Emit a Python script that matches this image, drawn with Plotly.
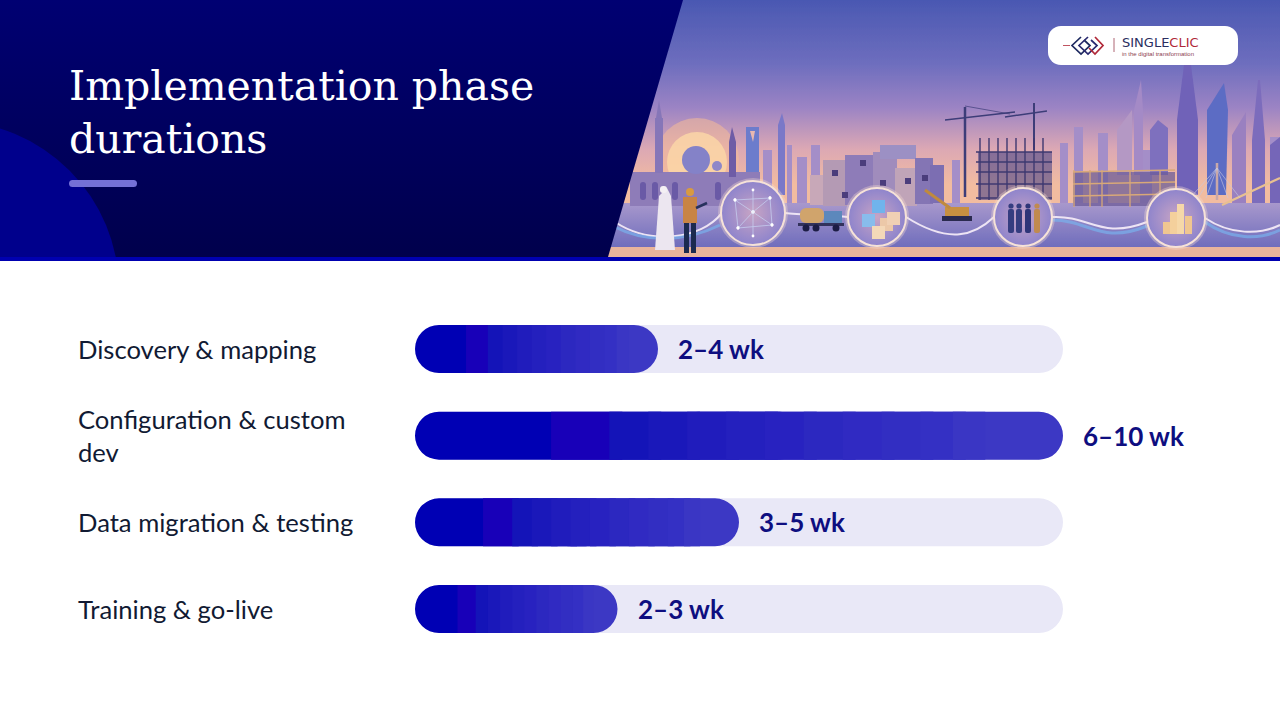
import base64
import plotly.graph_objects as go

# Chart data
phases = ['Discovery & mapping', 'Configuration & custom dev', 'Data migration & testing', 'Training & go-live']
phase_labels = ['Discovery & mapping', 'Configuration & custom<br>dev', 'Data migration & testing', 'Training & go-live']
bar_weeks = [3, 8, 4, 2.5]
range_labels = ['2–4 wk', '6–10 wk', '3–5 wk', '2–3 wk']
track_weeks = [8, 8, 8, 8]

# Bands of the bar fill, as share of each bar length
band_edges = [.21, .30, .36, .42, .48, .54, .60, .66, .72, .78, .83, .88]
band_colors = ['#1800B8', '#1414B8', '#1A18BA', '#201CBC', '#2420BE', '#2822C0',
               '#2C28C0', '#302AC2', '#322EC2', '#3430C4', '#3A36C4']
start_color = '#0000B4'
end_color = '#3C38C4'

NAVY = '#0E0E80'
INK = '#111A33'
W, H = 1280, 720


# Header artwork, drawn as one svg and placed behind the chart
def rect(x, y, w, h, fill, extra=''):
    return f'<rect x="{x}" y="{y}" width="{w}" height="{h}" fill="{fill}" {extra}/>'


def poly(points, fill, extra=''):
    return f'<polygon points="{points}" fill="{fill}" {extra}/>'


def circle(x, y, r, fill, extra=''):
    return f'<circle cx="{x}" cy="{y}" r="{r}" fill="{fill}" {extra}/>'


def line(x1, y1, x2, y2, color, w=1):
    return f'<line x1="{x1}" y1="{y1}" x2="{x2}" y2="{y2}" stroke="{color}" stroke-width="{w}"/>'


art = []
art.append(rect(600, 0, 680, 257, 'url(#sky)'))
art.append(circle(697, 160, 42, '#F6BC98', 'opacity=".55"'))
art.append(circle(697, 162, 30, '#FCD8A8', 'opacity=".8"'))

# far towers: x, top, width
for x, top, w in [(763, 150, 9), (787, 145, 5), (797, 157, 10), (811, 145, 9), (1060, 143, 8), (1074, 127, 9),
                  (1098, 133, 10), (1270, 137, 10), (952, 160, 8), (1140, 150, 12)]:
    art.append(rect(x, top, w, 205 - top, '#A48EC8'))
art.append(rect(746, 127, 13, 60, '#6C7CCC'))
art.append(poly('750,131 755,131 753,142', '#E8B8B0'))
art.append(poly('778,125 782,113 785,125 785,195 778,195', '#7A78C8'))

# right hand towers
for pts, fill in [('1117,130 1132,110 1132,175 1117,175', '#B498C4'),
                  ('1134,110 1141,80 1143,110 1143,175 1134,175', '#A48AC6'),
                  ('1150,130 1158,120 1168,128 1168,175 1150,175', '#7E70BE'),
                  ('1177,120 1184,65 1191,65 1198,120 1198,195 1177,195', '#6F62B8'),
                  ('1207,110 1224,83 1228,110 1226,195 1207,195', '#5C6CC4'),
                  ('1232,135 1246,112 1246,205 1232,205', '#9A80C0'),
                  ('1252,140 1258,80 1260,80 1265,140 1265,205 1252,205', '#7C6CBC'),
                  ('1270,145 1280,137 1280,205 1270,205', '#7466B8')]:
    art.append(poly(pts, fill))

# ground
art.append(rect(600, 203, 680, 45, 'url(#ground)'))
art.append(rect(600, 247, 680, 10, '#E8B49C'))

# mosque
art.append(rect(630, 172, 130, 34, '#8E7CB8'))
art.append(circle(696, 160, 14, '#8482C8'))
art.append(rect(655, 118, 8, 55, '#8676B8'))
art.append(poly('656,118 659,100 662,118', '#8676B8'))
art.append(rect(729, 142, 7, 35, '#6E5CA6'))
art.append(poly('729,142 732,127 736,142', '#6E5CA6'))
art.append(circle(717, 166, 5, '#8F88C8'))
for x in (640, 652, 672, 715, 745):
    art.append(rect(x, 182, 6, 18, '#6A5AA6', 'rx="3"'))

# mud brick blocks: x, y, w, h, colour
for x, y, w, h, fill in [(810, 175, 30, 30, '#C8A8B8'), (823, 160, 25, 46, '#B49AB4'), (845, 155, 28, 50, '#8E7CB8'),
                         (873, 152, 24, 52, '#A08CBC'), (880, 145, 36, 14, '#9C90C4'), (895, 168, 22, 38, '#C0A4B8'),
                         (915, 158, 18, 46, '#8474B4'), (930, 165, 14, 38, '#7C6EB2')]:
    art.append(rect(x, y, w, h, fill))
for x, y in [(832, 170), (860, 160), (880, 180), (905, 178), (842, 192), (868, 190), (922, 175)]:
    art.append(rect(x, y, 6, 6, '#4C3C7C'))

# cranes
for pts in [(965, 107, 965, 197, 2.5), (945, 120, 1015, 112, 1.6), (965, 106, 1010, 114, .7), (1034, 103, 1034, 150, 2),
            (1005, 117, 1047, 111, 1.5)]:
    art.append(line(*pts[:4], '#3C3C78', pts[4]))

# first building skeleton
art.append(rect(978, 152, 74, 48, '#4C4688', 'opacity=".6"'))
for x in range(980, 1052, 9):
    art.append(line(x, 138, x, 200, '#3E3870', 1.4))
for y in (152, 162, 172, 184, 198):
    art.append(line(976, y, 1052, y, '#3E3870', 1.6))

# second building skeleton
art.append(rect(1073, 172, 102, 34, '#6C5C98', 'opacity=".75"'))
for y in (172, 184, 196):
    art.append(line(1073, y, 1175, y - 2, '#D8A878', 1.4))
for x in (1074, 1090, 1102, 1130, 1160):
    art.append(line(x, 170, x, 207, '#D8A878', 1.3))

# bridge
art.append(line(1217, 163, 1217, 200, '#C8A8A8', 2.5))
art.append(line(1222, 205, 1280, 178, '#E8C090', 2.2))
for x in (1190, 1198, 1206, 1228, 1240):
    art.append(line(1217, 168, x, 198, '#C8C8E0', .6))

# data ribbon joining the circles
art.append('<path d="M615 222 C650 245 700 240 722 213 M785 213 C800 215 830 215 848 217 M906 217 C950 245 975 235 994 217 '
           'M1052 217 C1090 215 1100 240 1147 222 M1205 218 C1230 235 1260 235 1280 225" fill="none" stroke="#EDE4F4" '
           'stroke-width="2"/>')
art.append('<path d="M1052 220 C1090 220 1100 245 1147 226 M1205 222 C1230 240 1260 240 1280 230 M615 227 C640 240 680 245 '
           '720 225" fill="none" stroke="#78B0EC" stroke-width="3" opacity=".7"/>')

# truck
art.append(rect(800, 208, 24, 15, '#D0A46C', 'rx="6"'))
art.append(rect(824, 211, 18, 14, '#5C88BC'))
art.append(rect(798, 223, 46, 3, '#30305C'))
for x in (806, 816, 836):
    art.append(circle(x, 228, 3.5, '#1E1E44'))

# excavator
art.append(rect(945, 207, 24, 9, '#C89040'))
art.append(rect(942, 216, 30, 5, '#2A2A50'))
art.append(line(925, 190, 950, 208, '#C08A3C', 3))

# round badges
for x, y, r in [(753, 213, 32), (877, 217, 29), (1023, 217, 29), (1176, 218, 29)]:
    art.append(circle(x, y, r + 3, '#F6DCD0', 'opacity=".35"'))
    art.append(circle(x, y, r, 'url(#badge)', 'stroke="#F6E2D8" stroke-width="2"'))
for a, b in [((735, 200), (753, 212)), ((753, 212), (770, 198)), ((753, 212), (772, 225)), ((753, 212), (738, 228)),
             ((735, 200), (738, 228)), ((770, 198), (772, 225)), ((738, 228), (772, 225)), ((735, 200), (770, 198)),
             ((753, 190), (753, 236))]:
    art.append(line(*a, *b, '#C8D4F4', .7))
    art.append(circle(*a, 1.4, '#FFFFFF'))
    art.append(circle(*b, 1.4, '#FFFFFF'))
for x, y, fill in [(872, 200, '#70B4EC'), (862, 214, '#88BCEC'), (880, 218, '#ECC8A8'), (887, 212, '#F0D0B4'), (872, 226, '#F4D8B8')]:
    art.append(rect(x, y, 13, 13, fill))
for x, h, fill in [(1163, 12, '#F0C690'), (1170, 22, '#F4D09C'), (1177, 30, '#F6D8A8'), (1185, 18, '#F0C690')]:
    art.append(rect(x, 234 - h, 7, h, fill))
for x, fill in [(1009, '#343C80'), (1017, '#343C80'), (1026, '#2E3678'), (1035, '#C08A50')]:
    art.append(circle(x + 2, 206, 2.6, fill))
    art.append(rect(x - 1, 209, 6, 24, fill, 'rx="2"'))

# two figures in the foreground
art.append(poly('659,196 667,188 671,196 675,250 655,250', '#ECE6F0'))
art.append(rect(660, 186, 7, 7, '#F4F0F4', 'rx="3"'))
art.append(circle(690, 192, 4, '#D89A40'))
art.append(rect(683, 197, 14, 26, '#C88444'))
art.append(rect(684, 223, 5, 30, '#1E2A50'))
art.append(rect(691, 223, 5, 30, '#1E2A50'))
art.append(line(696, 208, 707, 203, '#28305C', 2.5))
art_svg = ''.join(art)

logo = (rect(1048, 26, 190, 39, '#FFFFFF', 'rx="13"')
        + '<g fill="none" stroke-width="1.7">'
        + '<path d="M1081 37 L1072 45.500 L1081 54 L1090 45.500 L1084 40" stroke="#1E2A60"/>'
        + '<path d="M1088 37 L1079 45.500 L1088 54 L1097 45.500 L1091 40" stroke="#2A2A70"/>'
        + '<path d="M1095 37 L1103 45.500 L1095 54 L1089 48" stroke="#B02838"/></g>'
        + line(1063, 45.5, 1070, 45.5, '#B02838', .8) + line(1114, 38, 1114, 52, '#9A4050', .8))

svg = f'''<svg xmlns="http://www.w3.org/2000/svg" width="1280" height="262" viewBox="0 0 1280 262">
<defs>
<linearGradient id="navy" x1="0" y1="0" x2="0" y2="1"><stop offset="0" stop-color="#000072"/><stop offset="1" stop-color="#00004C"/></linearGradient>
<linearGradient id="sky" x1="0" y1="0" x2="0" y2="1"><stop offset="0" stop-color="#4A58B2"/><stop offset=".25" stop-color="#6E6EBE"/>
<stop offset=".42" stop-color="#9C84C4"/><stop offset=".58" stop-color="#DCA8B4"/><stop offset=".72" stop-color="#F2BCA0"/><stop offset="1" stop-color="#F2BCA0"/></linearGradient>
<linearGradient id="ground" x1="0" y1="0" x2="0" y2="1"><stop offset="0" stop-color="#A898CC"/><stop offset="1" stop-color="#6E6CBC"/></linearGradient>
<radialGradient id="badge"><stop offset="0" stop-color="#C8A4C4"/><stop offset="1" stop-color="#8E84CC"/></radialGradient>
<filter id="soft"><feGaussianBlur stdDeviation=".6"/></filter>
<clipPath id="head"><rect width="1280" height="257"/></clipPath>
</defs>
<g filter="url(#soft)" clip-path="url(#head)">{art_svg}</g>
<polygon points="0,0 683,0 608,257 0,257" fill="url(#navy)"/>
<g clip-path="url(#head)"><circle cx="-50" cy="290" r="169" fill="#00008C"/></g>
<rect y="257" width="1280" height="4" fill="#0000B0"/>
<rect x="69" y="180" width="68" height="7" rx="3.500" fill="#7470D6"/>
{logo}
</svg>'''
header_src = 'data:image/svg+xml;base64,' + base64.b64encode(svg.encode()).decode()


def bar(base, size, color, radius=0):
    return go.Bar(y=phases, x=size, base=base, orientation='h', marker=dict(color=color, cornerradius=radius, line_width=0),
                  hoverinfo='skip', showlegend=False)


# Preparing data: track first, then the rounded ends, then the bands laid over their inner ends
data = [bar([0, 0, 0, 0], track_weeks, '#E9E8F7', 24)]
data.append(bar([0, 0, 0, 0], [w * .6 for w in bar_weeks], start_color, 24))
data.append(bar([w * .4 for w in bar_weeks], [w * .6 for w in bar_weeks], end_color, 24))
for i, color in enumerate(band_colors):
    # each band runs a little under the next one, so no seams show
    stop = min(band_edges[i + 1] + .02, band_edges[-1])
    data.append(bar([w * band_edges[i] for w in bar_weeks], [w * (stop - band_edges[i]) for w in bar_weeks], color))

annotations = []
for phase, label, weeks, text in zip(phases, phase_labels, bar_weeks, range_labels):
    annotations.append(dict(x=76 / W, xref='paper', y=phase, yref='y', text=label, showarrow=False, xanchor='left', align='left',
                            font=dict(family='Lato', size=25.6, color=INK)))
    annotations.append(dict(x=weeks, xref='x', y=phase, yref='y', text=text, showarrow=False, xanchor='left', xshift=18,
                            font=dict(family='Lato', size=26, color=NAVY, weight=700)))

# Logo wording
annotations.append(dict(x=1120 / W, xref='paper', y=1 - 42 / H, yref='paper', xanchor='left', yanchor='middle', showarrow=False,
                        text='<span style="color:#2A2E60">SINGLE</span><span style="color:#B02838">CLIC</span>',
                        font=dict(family='DejaVu Sans', size=13)))
annotations.append(dict(x=1120 / W, xref='paper', y=1 - 54.5 / H, yref='paper', xanchor='left', yanchor='middle', showarrow=False,
                        text='in the digital transformation', font=dict(family='Liberation Sans', size=6, color='#8A4050')))

# Preparing layout
layout = go.Layout(
    width=W, height=H, margin=dict(l=0, r=0, t=0, b=0), paper_bgcolor='white', plot_bgcolor='white',
    barmode='overlay', bargap=0.446,
    title=dict(text='Implementation phase<br>durations', x=69 / W, xanchor='left', y=1 - 100 / H, yanchor='top', xref='paper', yref='paper',
               font=dict(family='DejaVu Serif', size=41, color='white')),
    xaxis=dict(domain=[415 / W, 1063 / W], range=[0, 8], visible=False, fixedrange=True),
    yaxis=dict(domain=[1 - 652.3 / H, 1 - 305.7 / H], autorange='reversed', visible=False, fixedrange=True, categoryorder='array',
               categoryarray=phases),
    annotations=annotations,
    images=[dict(source=header_src, xref='paper', yref='paper', x=0, y=1, sizex=1, sizey=262 / H, sizing='stretch',
                 xanchor='left', yanchor='top', layer='below')],
)

# Plot the figure and saving in a html file
fig = go.Figure(data=data, layout=layout)
fig.write_html('out.html', config={'displayModeBar': False},
               post_script="document.body.style.margin='0';document.body.style.overflow='hidden';")
